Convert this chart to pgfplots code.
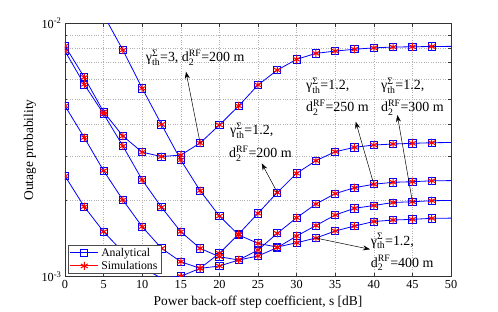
\documentclass[border=0pt]{standalone}
\usepackage{fontspec}
\setmainfont{Liberation Serif}
\usepackage{amsmath}
\usepackage{pgfplots}
\usepackage{pgfplotstable}
\pgfplotsset{compat=1.18}
\usetikzlibrary{arrows.meta}

\pgfplotsset{
  analeg/.style={legend image code/.code={\draw[##1] (0bp,0bp) -- (28bp,0bp); \draw[##1] plot coordinates {(14bp,0bp)};}},
  simleg/.style={legend image code/.code={\path (0bp,0bp) -- (28bp,0bp); \draw[##1] plot coordinates {(14bp,0bp)};}},
}

% gamma=3, d=200
\pgfplotstableread{
s p
0 8.14e-3
2.5 6.12e-3
5 4.47e-3
7.5 3.59e-3
10 3.10e-3
12.5 2.98e-3
15 3.02e-3
17.5 3.37e-3
20 3.97e-3
22.5 4.72e-3
25 5.71e-3
27.5 6.54e-3
30 7.21e-3
32.5 7.61e-3
35 7.77e-3
37.5 7.90e-3
40 8.00e-3
42.5 8.06e-3
45 8.08e-3
47.5 8.10e-3
50 8.11e-3
}\curveP
% gamma=1.2, d=300
\pgfplotstableread{
s p
0 7.77e-3
2.5 5.74e-3
5 4.39e-3
7.5 3.28e-3
10 2.41e-3
12.5 1.88e-3
15 1.505e-3
17.5 1.294e-3
20 1.199e-3
22.5 1.164e-3
25 1.207e-3
27.5 1.303e-3
30 1.447e-3
32.5 1.592e-3
35 1.752e-3
37.5 1.862e-3
40 1.910e-3
42.5 1.963e-3
45 1.977e-3
47.5 1.995e-3
50 2.000e-3
}\curveQ
% gamma=1.2, d=250
\pgfplotstableread{
s p
0 4.72e-3
2.5 3.54e-3
5 2.62e-3
7.5 2.008e-3
10 1.575e-3
12.5 1.294e-3
15 1.146e-3
17.5 1.079e-3
20 1.102e-3
22.5 1.164e-3
25 1.274e-3
27.5 1.484e-3
30 1.709e-3
32.5 1.936e-3
35 2.128e-3
37.5 2.245e-3
40 2.317e-3
42.5 2.358e-3
45 2.371e-3
47.5 2.390e-3
50 2.395e-3
}\curveR
% gamma=1.2, d=200
\pgfplotstableread{
s p
0 2.496e-3
2.5 1.889e-3
5 1.505e-3
7.5 1.252e-3
10 1.082e-3
12.5 0.988e-3
15 1.004e-3
17.5 1.079e-3
20 1.237e-3
22.5 1.474e-3
25 1.779e-3
27.5 2.149e-3
30 2.559e-3
32.5 2.870e-3
35 3.113e-3
37.5 3.241e-3
40 3.309e-3
42.5 3.339e-3
45 3.360e-3
47.5 3.379e-3
50 3.385e-3
}\curveS
% gamma=1.2, d=400
\pgfplotstableread{
s p
5 1.079e-2
7.5 7.84e-3
10 5.54e-3
12.5 3.99e-3
15 2.887e-3
17.5 2.185e-3
20 1.736e-3
22.5 1.461e-3
25 1.354e-3
27.5 1.309e-3
30 1.362e-3
32.5 1.421e-3
35 1.515e-3
37.5 1.585e-3
40 1.651e-3
42.5 1.674e-3
45 1.684e-3
47.5 1.700e-3
50 1.703e-3
}\curveA

\newcommand{\gth}{$\text{γ}^{\text{Σ}}_{\text{th}}$}
\newcommand{\drf}{d$_{\text{2}}^{\text{RF}}$}

\begin{document}
\begin{tikzpicture}
\useasboundingbox (-65bp,-35.3bp) rectangle (433bp,276.7bp);
\begin{axis}[
  at={(0,0)}, anchor=south west,
  scale only axis, width=386bp, height=253.4bp,
  ymode=log, xmin=0, xmax=50, ymin=1e-3, ymax=1e-2,
  xtick={0,5,...,50}, xticklabels={0,5,10,15,20,25,30,35,40,45,50},
  ytick={1e-3,1e-2}, yticklabels={10\textsuperscript{-3},10\textsuperscript{-2}},
  minor ytick={2e-3,3e-3,4e-3,5e-3,6e-3,7e-3,8e-3,9e-3},
  xmajorgrids=true, yminorgrids=true,
  major grid style={dotted, gray!60, line width=0.5bp},
  minor grid style={dotted, gray!60, line width=0.5bp},
  tick align=inside, tick pos=both,
  major tick length=4bp, minor tick length=2.5bp,
  tick style={black!80, line width=0.5bp},
  axis line style={black!80, line width=0.6bp},
  tick label style={font=\fontsize{12.3}{14}\selectfont},
  label style={font=\fontsize{13.5}{15}\selectfont},
  xlabel={Power back-off step coefficient, s [dB]},
  ylabel={Outage probability},
  xlabel style={at={(axis description cs:0.5,-0.0998)}, anchor=center},
  ylabel style={at={(axis description cs:-0.0907,0.5)}, anchor=center},
  clip marker paths=true,
  legend cell align=left,
  legend style={at={(0.0078,0.0107)}, anchor=south west, draw=black!70, line width=0.5bp,
    font=\fontsize{11.8}{13}\selectfont,
    inner xsep=1.5bp, inner ysep=1.5bp, row sep=0.5bp,
    nodes={inner ysep=1.5bp, inner xsep=2.5bp}},
  ana/.style={blue, only marks, mark=square, mark size=3.6bp, mark options={line width=0.8bp}},
  sim/.style={red, only marks, mark=asterisk, mark size=4bp, mark options={line width=1bp}},
  lin/.style={blue, line width=0.8bp, no marks},
]
\addlegendimage{analeg, blue, line width=0.8bp, mark=square, mark size=3.6bp}
\addlegendentry{Analytical}
\addlegendimage{simleg, red, mark=asterisk, mark size=4bp, line width=1bp}
\addlegendentry{Simulations}

\addplot[lin, forget plot] table[x=s,y=p]{\curveP};
\addplot[lin, forget plot] table[x=s,y=p]{\curveQ};
\addplot[lin, forget plot] table[x=s,y=p]{\curveR};
\addplot[lin, forget plot] table[x=s,y=p]{\curveS};
\addplot[lin, forget plot] table[x=s,y=p]{\curveA};

\addplot[ana, forget plot, restrict x to domain=-1:48] table[x=s,y=p]{\curveP};
\addplot[ana, forget plot, restrict x to domain=-1:48] table[x=s,y=p]{\curveQ};
\addplot[ana, forget plot, restrict x to domain=-1:48] table[x=s,y=p]{\curveR};
\addplot[ana, forget plot, restrict x to domain=-1:48] table[x=s,y=p]{\curveS};
\addplot[ana, forget plot, restrict x to domain=7:48] table[x=s,y=p]{\curveA};

\addplot[sim, forget plot, restrict x to domain=-1:48] table[x=s,y=p]{\curveP};
\addplot[sim, forget plot, restrict x to domain=-1:48] table[x=s,y=p]{\curveQ};
\addplot[sim, forget plot, restrict x to domain=-1:48] table[x=s,y=p]{\curveR};
\addplot[sim, forget plot, restrict x to domain=-1:48] table[x=s,y=p]{\curveS};
\addplot[sim, forget plot, restrict x to domain=7:48] table[x=s,y=p]{\curveA};

\coordinate (tP) at (axis cs:17.5,3.37e-3);
\coordinate (tS) at (axis cs:27.5,2.149e-3);
\coordinate (tR) at (axis cs:40,2.317e-3);
\coordinate (tQ) at (axis cs:45,1.977e-3);
\coordinate (tA) at (axis cs:32.5,1.421e-3);
\end{axis}

\begin{scope}[font=\fontsize{14}{16}\selectfont]
\node[anchor=base west, inner sep=0pt] at (80.7bp,214.7bp) {\gth=3, \drf=200 m};
\node[anchor=base west, inner sep=0pt] at (165bp,141.7bp) {\gth=1.2,};
\node[anchor=base west, inner sep=0pt] at (164bp,118.7bp) {\drf=200 m};
\node[anchor=base west, inner sep=0pt] at (241bp,186.7bp) {\gth=1.2,};
\node[anchor=base west, inner sep=0pt] at (241bp,164.7bp) {\drf=250 m};
\node[anchor=base west, inner sep=0pt] at (316bp,186.7bp) {\gth=1.2,};
\node[anchor=base west, inner sep=0pt] at (316bp,164.7bp) {\drf=300 m};
\node[anchor=base west, inner sep=0pt] at (305.7bp,31.7bp) {\gth=1.2,};
\node[anchor=base west, inner sep=0pt] at (305.7bp,9.7bp) {\drf=400 m};
\end{scope}
\begin{scope}[line width=0.5bp, -{Stealth[length=7bp,width=5bp]}]
\draw (tP) -- (121bp,205bp);
\draw (tS) -- (196.7bp,113.4bp);
\draw (tR) -- (290.7bp,155bp);
\draw (tQ) -- (332.3bp,161.7bp);
\draw (tA) -- (305bp,27.4bp);
\end{scope}
\end{tikzpicture}
\end{document}
